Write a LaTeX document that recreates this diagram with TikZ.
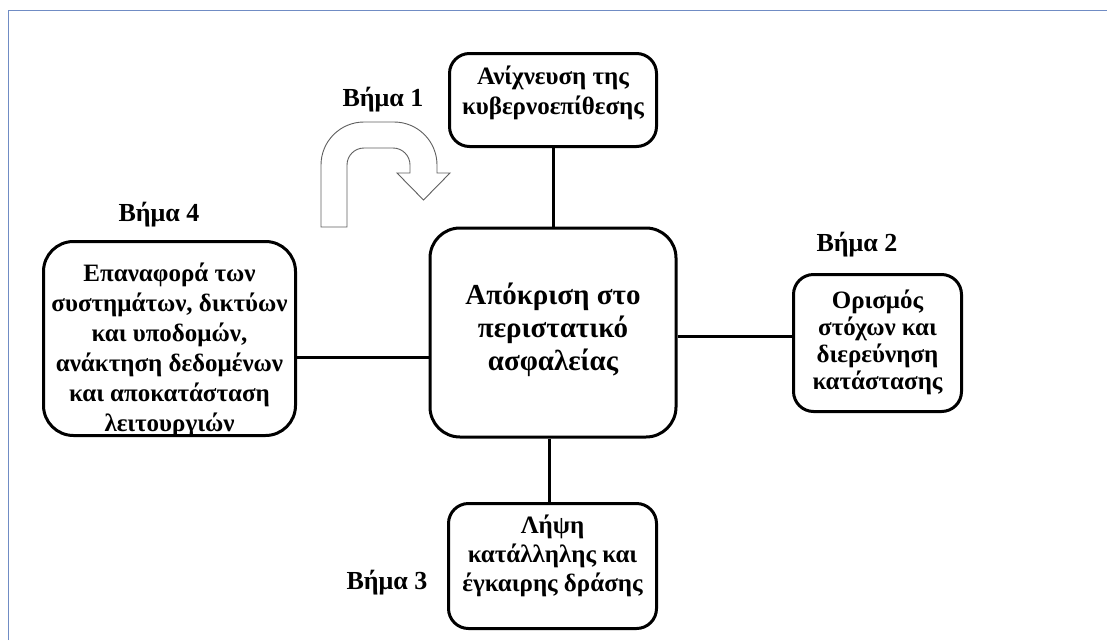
\documentclass[tikz,border=0pt]{standalone}
\usepackage{fontspec}
\setmainfont{Liberation Serif}
\usetikzlibrary{positioning}
\definecolor{framecol}{RGB}{112,140,196}
\definecolor{arrowcol}{RGB}{95,95,95}
\tikzset{
  stepbox/.style={draw,line width=3pt,fill=white,rounded corners=20pt},
  steptext/.style={font=\fontsize{25}{29}\selectfont\bfseries,align=center},
  steplabel/.style={font=\fontsize{26}{30}\selectfont\bfseries},
  link/.style={line width=3pt}
}

\begin{document}
\begin{tikzpicture}[x=1pt,y=-1pt]
\useasboundingbox (0,0) rectangle (1107,640);
%frame
\draw[framecol,line width=1.5pt](8.5,640)--(8.5,10.5)--(1107,10.5);

%central box
\node[stepbox,rounded corners=30pt,minimum width=246pt,minimum height=209pt,
 label={[steptext,font=\fontsize{29}{33}\selectfont\bfseries,yshift=2.5pt]center:{Απόκριση στο\\περιστατικό\\ασφαλείας}}]
 (resp) at (553,332.5) {};
%step 1
\node[stepbox,minimum width=207pt,minimum height=93pt,
 label={[steptext,font=\fontsize{25}{30}\selectfont\bfseries,yshift=7pt]center:{Ανίχνευση της\\κυβερνοεπίθεσης}}]
 (detect) at (553,100) {};
%step 2
\node[stepbox,minimum width=168pt,minimum height=137pt,
 label={[steptext,font=\fontsize{25}{27}\selectfont\bfseries,yshift=0.5pt]center:{Ορισμός\\στόχων και\\διερεύνηση\\κατάστασης}}]
 (goals) at (877.5,343) {};
%step 3
\node[stepbox,minimum width=208pt,minimum height=125pt,
 label={[steptext,yshift=10.5pt]center:{Λήψη\\κατάλληλης και\\έγκαιρης δράσης}}]
 (act) at (552.5,566) {};
%step 4
\node[stepbox,rounded corners=30pt,minimum width=252pt,minimum height=194pt,
 label={[steptext,font=\fontsize{25}{30}\selectfont\bfseries,yshift=-11.5pt]center:{Επαναφορά των\\συστημάτων, δικτύων\\και υποδομών,\\ανάκτηση δεδομένων\\και αποκατάσταση\\λειτουργιών}}]
 (restore) at (169.5,338.5) {};

%connectors
\draw[link](detect.south)--(resp.north);
\draw[link]([yshift=-4pt]resp.east)--([yshift=-4pt]resp.east-|goals.west);
\draw[link]([xshift=-3.5pt]act.north)--([xshift=-3.5pt]act.north|-resp.south);
\draw[link]([yshift=-18.5pt]restore.east)--([yshift=-18.5pt]restore.east-|resp.west);

%u-turn arrow
\draw[arrowcol,line width=0.9pt,fill=white](321,227)--(321,165)
 arc[start angle=180,end angle=270,radius=43]--(394,122)
 arc[start angle=270,end angle=360,radius=43]--(437,173)--(450,173)--(423.5,200)--(397,173)--(410,173)--(410,165)
 arc[start angle=0,end angle=-90,radius=17]--(364,148)
 arc[start angle=270,end angle=180,radius=17]--(347,227)--cycle;

%labels
\node[steplabel](step1)at(383,100){Βήμα 1};
\node[steplabel](step2)at(857,245){Βήμα 2};
\node[steplabel](step3)at(387,583){Βήμα 3};
\node[steplabel](step4)at(159,215){Βήμα 4};
\end{tikzpicture}
\end{document}
